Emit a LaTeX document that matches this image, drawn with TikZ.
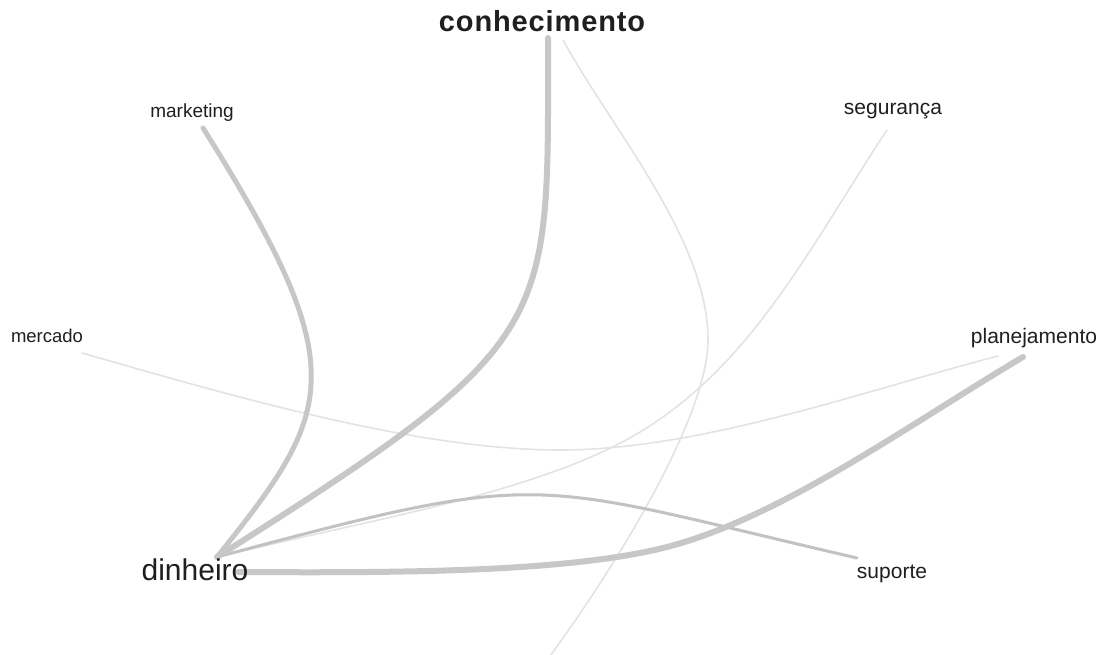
\documentclass[tikz,border=0pt]{standalone}
\usepackage{fontspec}
\setmainfont{Liberation Sans}
\newfontfamily\largafonte[LetterSpace=3]{Liberation Sans}
\usepackage{tikz}
\usetikzlibrary{calc}

\begin{document}
\begin{tikzpicture}[x=1pt, y=-1pt,
  rotulo/.style={anchor=base, inner sep=0pt, text=black!88},
  grossa/.style={draw=black!22, line width=#1, line cap=round},
  grossa/.default=5pt,
  fina/.style={draw=black!11, line width=1.6pt, line cap=round}]
\useasboundingbox[fill=white] (0,0) rectangle (1101,655);

\coordinate (din) at (217,557);
\coordinate (din2) at (238,572);
\coordinate (con) at (548,38);
\coordinate (con2) at (563,40);
\coordinate (mkt) at (203,128);
\coordinate (seg) at (887,130);
\coordinate (mer) at (82,353);
\coordinate (pla) at (1023,357);
\coordinate (pla2) at (998,356);
\coordinate (sup) at (857,558);
\coordinate (fim) at (547,660);

% ligacoes fracas
\draw[fina] (mer) .. controls (242,399) and (420,450) .. (560,450)
                  .. controls (700,450) and (860,392) .. (pla2);
\draw[fina] (con2) .. controls (613,131) and (708,240) .. (708,340)
                   .. controls (708,420) and (608,578) .. (fim);
\draw[fina] (din) .. controls (380,518) and (500,498) .. (600,453)
                  .. controls (740,390) and (800,262) .. (seg);

% ligacoes fortes
\draw[grossa=3pt, draw=black!24] (din) .. controls (553,467) and (524,481) .. (sup);
\draw[grossa=5pt] (din) .. controls (335,410) and (355,370) .. (mkt);
\draw[grossa=6pt] (din) .. controls (560,340) and (548,330) .. (con);
\draw[grossa=6pt] (din2) .. controls (400,573) and (550,572) .. (650,551)
                  .. controls (770,526) and (903,428) .. (pla);

% palavras
\node[rotulo, font=\largafonte\bfseries\fontsize{29}{32}\selectfont] (conhecimento) at (542,32) {conhecimento};
\node[rotulo, font=\fontsize{19}{22}\selectfont] (marketing) at (192,118) {marketing};
\node[rotulo, font=\fontsize{21}{24}\selectfont] (seguranca) at (893,115) {segurança};
\node[rotulo, font=\fontsize{18.5}{22}\selectfont] (mercado) at (47,342) {mercado};
\node[rotulo, font=\fontsize{21}{24}\selectfont] (planejamento) at (1034,343) {planejamento};
\node[rotulo, font=\fontsize{21}{24}\selectfont] (suporte) at (892,578) {suporte};
\node[rotulo, font=\fontsize{30}{34}\selectfont] (dinheiro) at (195,580) {dinheiro};
\end{tikzpicture}
\end{document}
